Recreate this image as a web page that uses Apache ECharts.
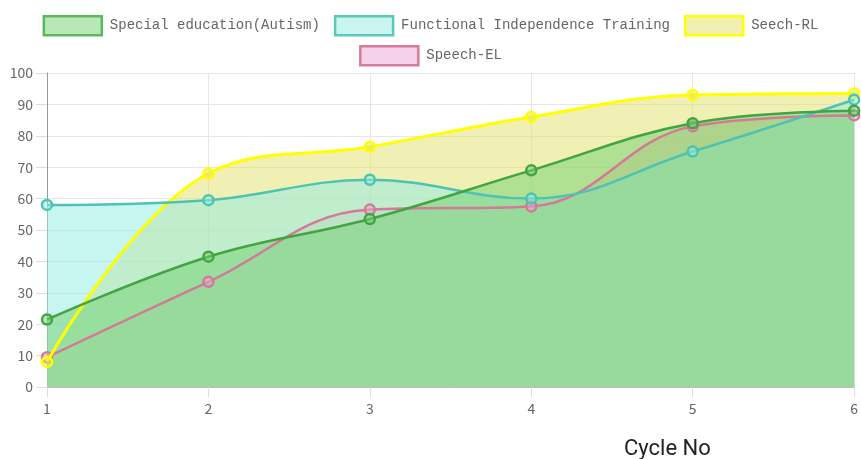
<!DOCTYPE html>
<html>
<head>
<meta charset="utf-8">
<script src="https://cdn.jsdelivr.net/npm/echarts@6/dist/echarts.min.js"></script>
<style>
  html, body { margin: 0; padding: 0; background: #fff; }
  #chart { width: 861px; height: 459px; }
</style>
</head>
<body>
<div id="chart"></div>
<script>
// data
const cycles = ['1', '2', '3', '4', '5', '6'];
const specialEd = [21.5, 41.5, 53.5, 69, 84, 88];
const functionalTraining = [58, 59.5, 66, 60, 75, 91.5];
const speechRL = [8, 68, 76.5, 86, 93, 93.5];
const speechEL = [9.5, 33.5, 56.5, 57.5, 83, 86.5];

const names = ['Special education(Autism)', 'Functional Independence Training', 'Seech-RL', 'Speech-EL'];
const values = [specialEd, functionalTraining, speechRL, speechEL];

// line colour, area colour, legend box fill
const styles = [
  { line: '#43a443', area: 'rgba(113,209,113,0.5)', box: '#b8e8b8', border: '#5cb85c' },
  { line: '#4fc3b3', area: 'rgba(147,236,226,0.52)', box: '#c8f5f0', border: '#5bc8b8' },
  { line: '#ffff00', area: 'rgba(225,225,105,0.5)', box: '#f0f0b0', border: '#ffff00' },
  { line: '#d27a98', area: 'rgba(235,161,209,0.5)', box: '#f5d0e8', border: '#d87a9a' }
];

const chart = echarts.init(document.getElementById('chart'));

// fills first (all of them), then lines on top, like the original
const areaSeries = names.map((name, i) => ({
  name: name,
  type: 'line',
  data: values[i],
  smooth: 0.4,
  showSymbol: false,
  z: 5 - i,
  lineStyle: { width: 0 },
  itemStyle: { color: styles[i].box },
  areaStyle: { color: styles[i].area, origin: 'start', opacity: 1 }
}));

const lineSeries = names.map((name, i) => ({
  name: name,
  type: 'line',
  data: values[i],
  smooth: 0.4,
  symbol: 'circle',
  symbolSize: 10,
  z: 20 - i,
  lineStyle: { color: styles[i].line, width: i === 2 ? 3 : 2.5 },
  itemStyle: { color: styles[i].area, borderColor: styles[i].line, borderWidth: 2.5 }
}));

const legendBase = {
  left: 'center',
  icon: 'rect',
  itemWidth: 58,
  itemHeight: 19,
  itemGap: 14,
  textStyle: { fontFamily: 'Liberation Mono', fontSize: 14, color: '#666', padding: [0, 0, 0, 3] }
};
const legendData = (list) => list.map((name) => {
  const i = names.indexOf(name);
  return { name: name, itemStyle: { color: styles[i].box, borderColor: styles[i].border, borderWidth: 2.5 } };
});

chart.setOption({
  animation: false,
  title: {
    text: 'Cycle No',
    left: 619,
    top: 433,
    textStyle: { fontSize: 22, fontWeight: 'normal', color: '#222', fontFamily: 'Roboto' }
  },
  legend: [
    Object.assign({}, legendBase, { top: 10, data: legendData(names.slice(0, 3)) }),
    Object.assign({}, legendBase, { top: 40, data: legendData(names.slice(3)) })
  ],
  grid: { left: 47, right: 4, top: 73, bottom: 72 },
  xAxis: {
    type: 'category',
    data: cycles,
    boundaryGap: false,
    axisLine: { lineStyle: { color: '#bbb' } },
    axisTick: { length: 10, lineStyle: { color: '#ddd' } },
    axisLabel: { color: '#666', fontSize: 14, margin: 15, fontFamily: 'Noto Sans CJK SC' },
    splitLine: { show: true, lineStyle: { color: '#e6e6e6' } }
  },
  yAxis: {
    type: 'value',
    min: 0,
    max: 100,
    interval: 10,
    axisLine: { show: true, lineStyle: { color: '#999' } },
    axisTick: { show: true, length: 11, lineStyle: { color: '#ddd' } },
    axisLabel: { color: '#666', fontSize: 14, margin: 14, fontFamily: 'Noto Sans CJK SC' },
    splitLine: { lineStyle: { color: '#e6e6e6' } }
  },
  series: areaSeries.concat(lineSeries)
});
</script>
</body>
</html>
